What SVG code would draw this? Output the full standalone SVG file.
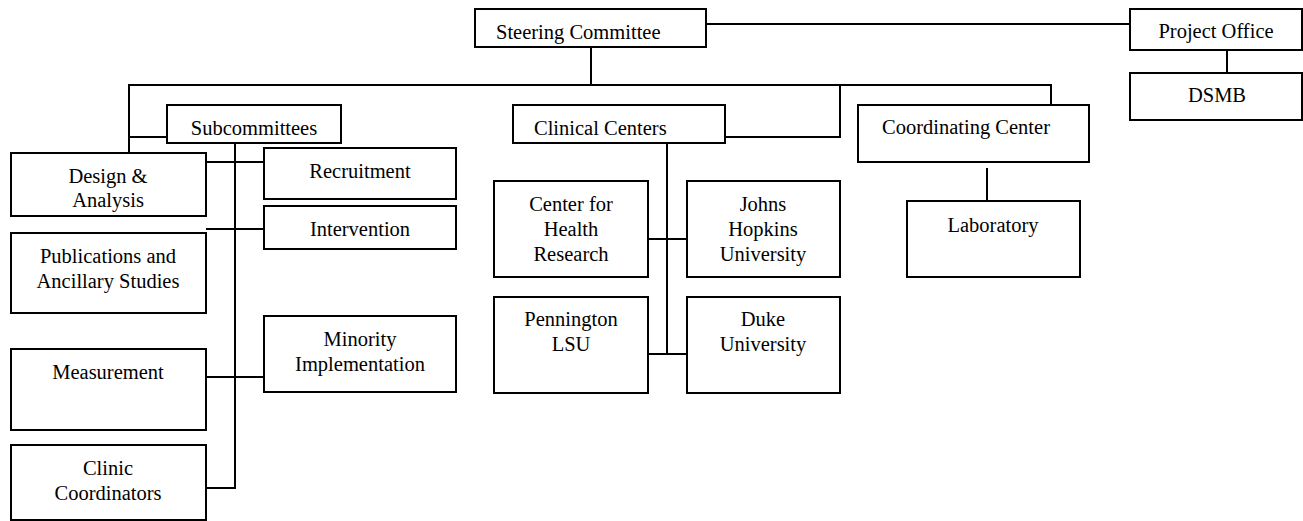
<svg xmlns="http://www.w3.org/2000/svg" width="1303" height="521" viewBox="0 0 1303 521">
<style>
rect{fill:#fff;stroke:#000;stroke-width:2}
.c line,.c polyline{stroke:#000;stroke-width:2;fill:none}
text{font-family:'Liberation Serif','Tinos','DejaVu Serif',serif;font-size:20.5px;fill:#000;text-anchor:middle}
</style>
<rect x="0" y="0" width="1303" height="521" style="stroke:none"/>
<g class="c" id="connectors">
<line x1="706" y1="24" x2="1130" y2="24"/>
<line x1="591" y1="47" x2="591" y2="85"/>
<polyline points="129,153 129,85 1051,85 1051,105"/>
<line x1="129" y1="137" x2="167" y2="137"/>
<polyline points="725,137 840,137 840,85"/>
<line x1="1227" y1="50" x2="1227" y2="73"/>
<line x1="987" y1="168" x2="987" y2="201"/>
<polyline points="235,143 235,488 202,488"/>
<line x1="206" y1="162" x2="264" y2="162"/>
<line x1="206" y1="229" x2="264" y2="229"/>
<line x1="202" y1="377" x2="267" y2="377"/>
<line x1="667" y1="143" x2="667" y2="354"/>
<line x1="648" y1="239" x2="687" y2="239"/>
<line x1="648" y1="354" x2="687" y2="354"/>
</g>
<g id="steering"><rect x="475" y="9" width="231" height="38"/><text x="496" y="39" style="text-anchor:start">Steering Committee</text></g>
<g id="project-office"><rect x="1130" y="9" width="172" height="41"/><text x="1216" y="38">Project Office</text></g>
<g id="dsmb"><rect x="1130" y="73" width="172" height="47"/><text x="1217" y="102">DSMB</text></g>
<g id="subcommittees"><rect x="167" y="105" width="174" height="38"/><text x="254" y="135">Subcommittees</text></g>
<g id="clinical-centers"><rect x="513" y="105" width="212" height="38"/><text x="534" y="135" style="text-anchor:start">Clinical Centers</text></g>
<g id="coordinating-center"><rect x="858" y="105" width="231" height="57"/><text x="966" y="134">Coordinating Center</text></g>
<g id="laboratory"><rect x="907" y="201" width="173" height="76"/><text x="993" y="232">Laboratory</text></g>
<g id="design-analysis"><rect x="11" y="153" width="195" height="63"/><text x="108" y="183">Design &amp;</text><text x="108" y="207">Analysis</text></g>
<g id="recruitment"><rect x="264" y="148" width="192" height="51"/><text x="360" y="178">Recruitment</text></g>
<g id="intervention"><rect x="264" y="206" width="192" height="43"/><text x="360" y="236">Intervention</text></g>
<g id="publications"><rect x="11" y="233" width="195" height="80"/><text x="108" y="263">Publications and</text><text x="108" y="288">Ancillary Studies</text></g>
<g id="minority"><rect x="264" y="316" width="192" height="76"/><text x="360" y="346">Minority</text><text x="360" y="371">Implementation</text></g>
<g id="measurement"><rect x="11" y="349" width="195" height="81"/><text x="108" y="379">Measurement</text></g>
<g id="clinic-coordinators"><rect x="11" y="445" width="195" height="75"/><text x="108" y="475">Clinic</text><text x="108" y="500">Coordinators</text></g>
<g id="chr"><rect x="494" y="181" width="154" height="96"/><text x="571" y="211">Center for</text><text x="571" y="236">Health</text><text x="571" y="261">Research</text></g>
<g id="jhu"><rect x="687" y="181" width="153" height="96"/><text x="763" y="211">Johns</text><text x="763" y="236">Hopkins</text><text x="763" y="261">University</text></g>
<g id="pennington"><rect x="494" y="297" width="154" height="96"/><text x="571" y="326">Pennington</text><text x="571" y="351">LSU</text></g>
<g id="duke"><rect x="687" y="297" width="153" height="96"/><text x="763" y="326">Duke</text><text x="763" y="351">University</text></g>
</svg>
